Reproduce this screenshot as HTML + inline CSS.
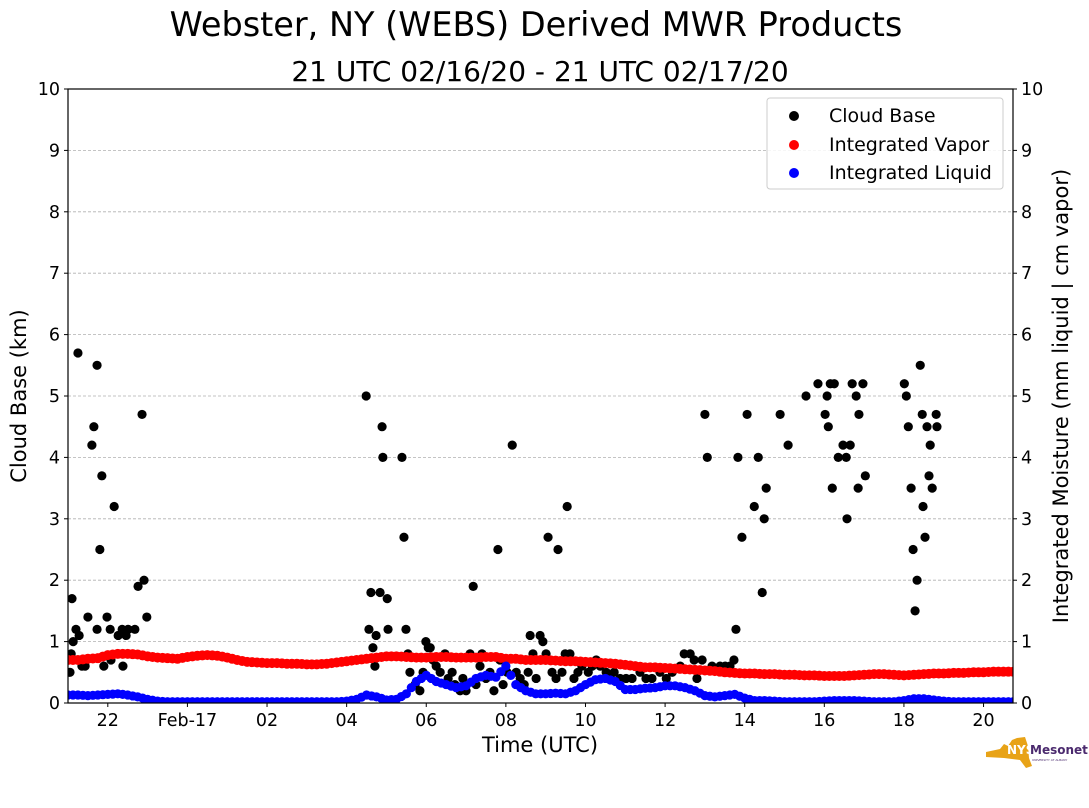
<!DOCTYPE html>
<html><head><meta charset="utf-8"><style>
body{margin:0;background:#fff;width:1089px;height:804px;overflow:hidden;font-family:"DejaVu Sans","Liberation Sans",sans-serif}
svg text{font-family:"DejaVu Sans","Liberation Sans",sans-serif}
</style></head><body>
<svg id="chart" width="1089" height="804" xmlns="http://www.w3.org/2000/svg">
<text x="536" y="36" font-size="33.5" text-anchor="middle">Webster, NY (WEBS) Derived MWR Products</text>
<text x="540" y="81" font-size="28" text-anchor="middle">21 UTC 02/16/20 - 21 UTC 02/17/20</text>
<g id="grid"></g>
<g id="marks"></g>
<rect x="68" y="89" width="945" height="614" fill="none" stroke="#000" stroke-width="1.2"/>
<g id="axes"></g>
<text x="540" y="752" font-size="21" text-anchor="middle">Time (UTC)</text>
<text transform="translate(26,396) rotate(-90)" font-size="21" text-anchor="middle">Cloud Base (km)</text>
<text transform="translate(1068,396) rotate(-90)" font-size="21" text-anchor="middle">Integrated Moisture (mm liquid | cm vapor)</text>
<g>
<rect x="767" y="98" width="236" height="91" rx="3" fill="#fff" fill-opacity="0.85" stroke="#ccc"/>
<circle cx="794" cy="116" r="5" fill="#000"/>
<text x="829" y="122" font-size="19">Cloud Base</text>
<circle cx="794" cy="145" r="5" fill="red"/>
<text x="829" y="151" font-size="19">Integrated Vapor</text>
<circle cx="794" cy="173" r="5" fill="blue"/>
<text x="829" y="179" font-size="19">Integrated Liquid</text>
</g>
<g>
<path d="M986 752 L1000 749 L1004 744 L1008 746 L1012 740 L1017 738 L1025 737 L1028 746 L1029 758 L1032 766 L1026 768 L1020 760 L1004 758 L986 757 Z" fill="#e8a317"/>
<text x="1007" y="754" font-size="12" font-weight="bold" fill="#fff">NYS</text>
<text x="1030" y="754" font-size="12" font-weight="bold" fill="#4b2a6e">Mesonet</text>
<text x="1032" y="761" font-size="3" fill="#4b2a6e">UNIVERSITY AT ALBANY</text>
</g>
</svg>
<script>
const xTickHours=[22,24,26,28,30,32,34,36,38,40,42,44];
const xTickLabels=["22","Feb-17","02","04","06","08","10","12","14","16","18","20"];
const yTicks=[0,1,2,3,4,5,6,7,8,9,10];
const vapor=[.70,.70,.72,.73,.78,.80,.80,.79,.76,.74,.73,.72,.75,.77,.78,.77,.74,.70,.67,.66,.65,.65,.64,.64,.63,.63,.64,.66,.68,.70,.72,.74,.76,.76,.75,.74,.74,.75,.75,.74,.74,.74,.75,.75,.72,.72,.70,.70,.70,.69,.68,.68,.67,.66,.65,.64,.62,.60,.58,.58,.57,.56,.55,.54,.53,.52,.50,.49,.48,.48,.47,.47,.46,.46,.45,.45,.44,.44,.44,.45,.46,.47,.47,.46,.45,.46,.47,.48,.48,.49,.49,.50,.50,.51,.51,.51,.51];
const liquid=[.13,.13,.12,.13,.14,.15,.13,.10,.06,.03,.02,.02,.02,.02,.02,.02,.02,.02,.02,.02,.02,.02,.02,.02,.02,.02,.02,.02,.03,.06,.13,.10,.05,.06,.15,.35,.45,.35,.30,.25,.28,.40,.45,.42,.60,.30,.20,.15,.15,.16,.15,.20,.30,.38,.40,.35,.22,.22,.24,.25,.28,.28,.25,.20,.12,.10,.12,.14,.08,.04,.04,.03,.02,.02,.02,.02,.03,.04,.04,.04,.03,.02,.02,.02,.04,.07,.07,.05,.03,.02,.02,.02,.02,.02,.02,.02,.02];
const cloudHours=[.05,.08,.10,.13,.20,.25,.28,.35,.43,.50,.60,.65,.73,.73,.80,.85,.90,.98,1.06,1.08,1.16,1.26,1.36,1.38,1.46,1.51,1.68,1.76,1.86,1.91,1.98,7.49,7.56,7.61,7.66,7.71,7.74,7.84,7.89,7.91,8.02,8.04,8.39,8.44,8.49,8.54,8.59,8.72,8.84,8.92,8.99,9.05,9.10,9.17,9.25,9.35,9.47,9.55,9.65,9.72,9.85,9.92,10.0,10.1,10.18,10.25,10.35,10.4,10.5,10.6,10.7,10.8,10.85,10.93,11.03,11.16,11.26,11.36,11.46,11.56,11.61,11.68,11.76,11.86,11.93,12.01,12.06,12.16,12.26,12.31,12.41,12.49,12.54,12.61,12.71,12.81,12.91,13.07,13.17,13.27,13.37,13.52,13.62,13.72,13.87,14.02,14.17,14.37,14.52,14.67,14.87,15.03,15.18,15.38,15.48,15.63,15.73,15.8,15.93,16.0,16.06,16.18,16.38,16.51,16.63,16.73,16.78,16.83,16.93,17.06,17.24,17.34,17.44,17.49,17.54,17.89,18.09,18.54,18.84,19.02,19.07,19.1,19.15,19.2,19.25,19.35,19.47,19.55,19.57,19.65,19.7,19.8,19.85,19.87,19.97,20.03,21.01,21.06,21.11,21.18,21.23,21.28,21.33,21.41,21.46,21.48,21.53,21.58,21.63,21.66,21.71,21.81,21.83];
const cloudBase=[.5,.8,1.7,1.0,1.2,5.7,1.1,.6,.6,1.4,4.2,4.5,5.5,1.2,2.5,3.7,.6,1.4,1.2,.7,3.2,1.1,1.2,.6,1.1,1.2,1.2,1.9,4.7,2.0,1.4,5.0,1.2,1.8,.9,.6,1.1,1.8,4.5,4.0,1.7,1.2,4.0,2.7,1.2,.8,.5,.3,.2,.5,1.0,.9,.9,.7,.6,.5,.8,.4,.5,.3,.2,.4,.2,.8,1.9,.3,.6,.8,.4,.5,.2,2.5,.7,.3,.5,4.2,.5,.4,.3,.5,1.1,.8,.4,1.1,1.0,.8,2.7,.5,.4,2.5,.5,.8,3.2,.8,.4,.5,.6,.5,.6,.7,.6,.5,.4,.5,.4,.4,.4,.5,.4,.4,.5,.4,.5,.6,.8,.8,.7,.4,.7,4.7,4.0,.6,.6,.6,.6,.7,1.2,4.0,2.7,4.7,3.2,4.0,1.8,3.0,3.5,4.7,4.2,5.0,5.2,4.7,5.0,4.5,5.2,3.5,5.2,4.0,4.2,4.0,3.0,4.2,5.2,5.0,3.5,4.7,5.2,3.7,5.2,5.0,4.5,3.5,2.5,1.5,2.0,5.5,4.7,3.2,2.7,4.5,3.7,4.2,3.5,4.7,4.5];

const NS="http://www.w3.org/2000/svg";
const X0=68,X1=1013,Y0=703,Y1=89,HSTART=21,HEND=44.74;
function xs(h){return X0+(h-HSTART)/(HEND-HSTART)*(X1-X0);}
function ys(v){return Y0-v/10*(Y0-Y1);}
function mk(tag,attrs,parent){const e=document.createElementNS(NS,tag);for(const k in attrs)e.setAttribute(k,attrs[k]);parent.appendChild(e);return e;}
const grid=document.getElementById('grid'),marks=document.getElementById('marks'),axes=document.getElementById('axes');
yTicks.forEach(v=>{
  if(v>0&&v<10){const g=mk('line',{x1:X0,x2:X1,y1:ys(v),y2:ys(v),stroke:'#b0b0b0','stroke-dasharray':'3,2','stroke-width':0.8},grid);
  
  }
  mk('line',{x1:X0-4,x2:X0,y1:ys(v),y2:ys(v),stroke:'#000'},axes);
  mk('line',{x1:X1,x2:X1+4,y1:ys(v),y2:ys(v),stroke:'#000'},axes);
  const l=mk('text',{x:X0-8,y:ys(v)+6,'font-size':17.5,'text-anchor':'end'},axes);l.textContent=v;
  
  
  const r=mk('text',{x:X1+8,y:ys(v)+6,'font-size':17.5},axes);r.textContent=v;
  
  
});
xTickHours.forEach((h,i)=>{
  mk('line',{x1:xs(h),x2:xs(h),y1:Y0,y2:Y0+4,stroke:'#000'},axes);
  const t=mk('text',{x:xs(h),y:Y0+23,'font-size':17.5,'text-anchor':'middle'},axes);t.textContent=xTickLabels[i];
  
  
});
const clip=mk('clipPath',{id:'pc'},document.getElementById('chart'));
mk('rect',{x:X0,y:Y1,width:X1-X0,height:Y0-Y1},clip);
marks.setAttribute('clip-path','url(#pc)');
cloudBase.forEach((v,i)=>{const c=mk('circle',{cx:xs(HSTART+cloudHours[i]),cy:ys(v),r:4.6,fill:'#000'},marks);
  
  });
vapor.forEach((v,i)=>{const c=mk('circle',{cx:xs(HSTART+i*0.25),cy:ys(v),r:5,fill:'red'},marks);
  
  
  if(i<vapor.length-1){const c2=mk('circle',{cx:xs(HSTART+i*0.25+0.125),cy:ys((v+vapor[i+1])/2),r:5,fill:'red'},marks);
  
  }});
liquid.forEach((v,i)=>{const c=mk('circle',{cx:xs(HSTART+i*0.25),cy:ys(v),r:4.6,fill:'blue'},marks);
  
  
  if(i<liquid.length-1){const c2=mk('circle',{cx:xs(HSTART+i*0.25+0.125),cy:ys((v+liquid[i+1])/2),r:4.6,fill:'blue'},marks);
  
  }});
</script>
</body></html>
